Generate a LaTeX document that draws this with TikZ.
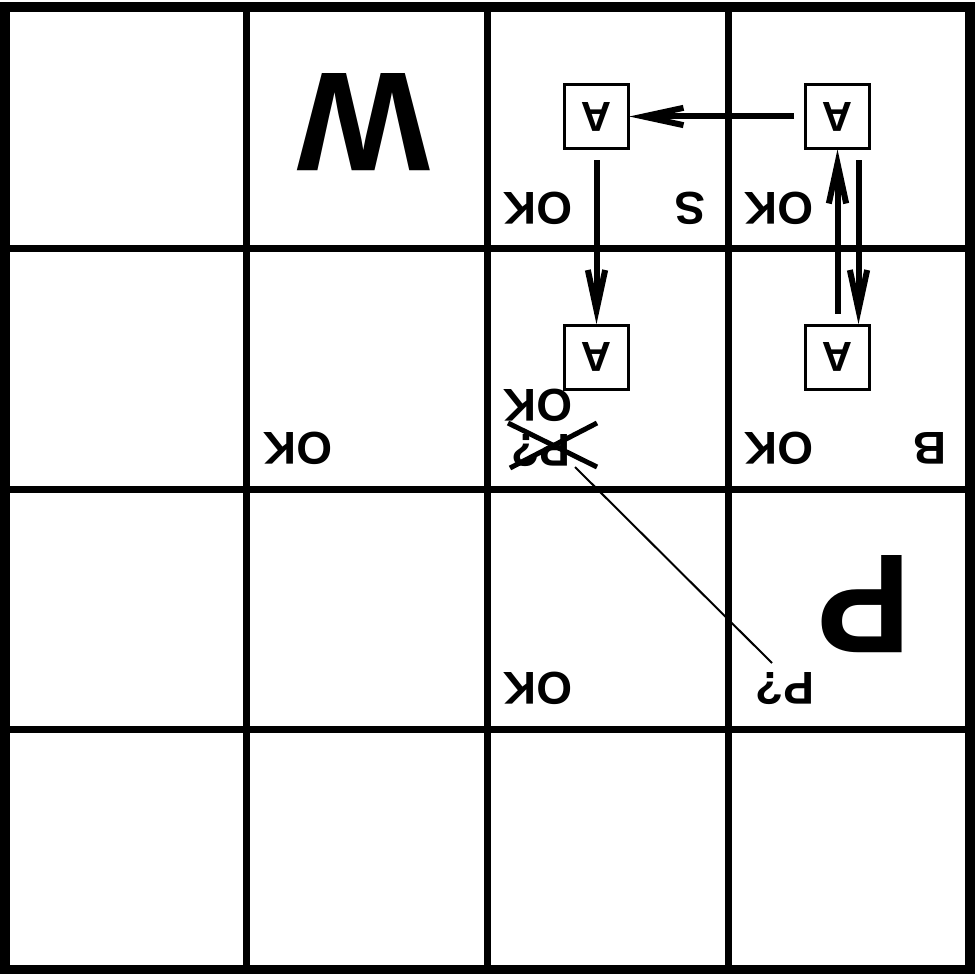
\documentclass[tikz,border=0pt]{standalone}
\usepackage{fontspec}
\setmainfont{Liberation Sans}
\usetikzlibrary{arrows.meta}
\tikzset{
  gridline/.style={line width=5.25pt},
  outerline/.style={line width=7.5pt},
  lbl/.style={inner sep=0pt, rotate=180, font=\bfseries\fontsize{34.5}{40}\selectfont},
  big/.style={inner sep=0pt, rotate=180, font=\bfseries\fontsize{106}{120}\selectfont},
  agent/.style={draw, line width=2.25pt, minimum size=48pt, inner sep=0pt,
                font=\bfseries\fontsize{31.5}{36}\selectfont},
  conn/.style={line width=4.5pt, shorten <=7.5pt, shorten >=-2.5pt,
               -{Stealth[length=0.2pt,width=0.2pt,inset=0pt] Straight Barb[sharp,length=30pt,width=13pt,sep=2pt]}},
  crossline/.style={line width=3.75pt},
  thin/.style={line width=1.5pt}
}
\newcommand{\flipA}{\rotatebox[origin=c]{180}{A}}
\begin{document}
\begin{tikzpicture}[x=0.75pt,y=-0.75pt]
\useasboundingbox (0,0) rectangle (975,974);
% grid
\draw[gridline] (246.5,7) -- (246.5,969.5);
\draw[gridline] (487.5,7) -- (487.5,969.5);
\draw[gridline] (728.5,7) -- (728.5,969.5);
\draw[gridline] (5,248) -- (969.5,248);
\draw[gridline] (5,489) -- (969.5,489);
\draw[gridline] (5,729) -- (969.5,729);
\draw[outerline] (5,7) rectangle (969.5,969.5);
% big letters
\node[big] (W) at (364,122) {W};
\node[big] (P) at (864,604) {P};
% labels
\node[lbl] (ok1) at (538,208) {OK};
\node[lbl] (ok2) at (779,208) {OK};
\node[lbl] (ok3) at (779,448) {OK};
\node[lbl] (ok4) at (298,448) {OK};
\node[lbl] (ok5) at (538,405) {OK};
\node[lbl] (ok6) at (538,688) {OK};
\node[lbl] (S) at (690,208) {S};
\node[lbl] (B) at (930,448) {B};
\node[lbl] (pq1) at (541,451) {P?};
\node[lbl] (pq2) at (785,689) {P?};
% cross over struck P?
\draw[crossline] (508,423) -- (597,467);
\draw[crossline] (597,423) -- (510,468);
% diagonal line
\coordinate (d1) at (575,467);
\coordinate (d2) at (772,663);
\draw[thin] (d1) -- (d2);
% agent boxes
\node[agent] (b1) at (596.5,116.5) {\flipA};
\node[agent] (b2) at (837.5,116.5) {\flipA};
\node[agent] (b3) at (596.5,357) {\flipA};
\node[agent] (b4) at (837.5,357) {\flipA};
% arrows
\draw[conn] (b2.west) -- (b1.east);
\draw[conn] (b1.south) -- (b3.north);
\draw[conn] (b4.north) -- (b2.south);
\draw[conn] ([xshift=15.75pt]b2.south) -- ([xshift=15.75pt]b4.north);
\end{tikzpicture}
\end{document}
